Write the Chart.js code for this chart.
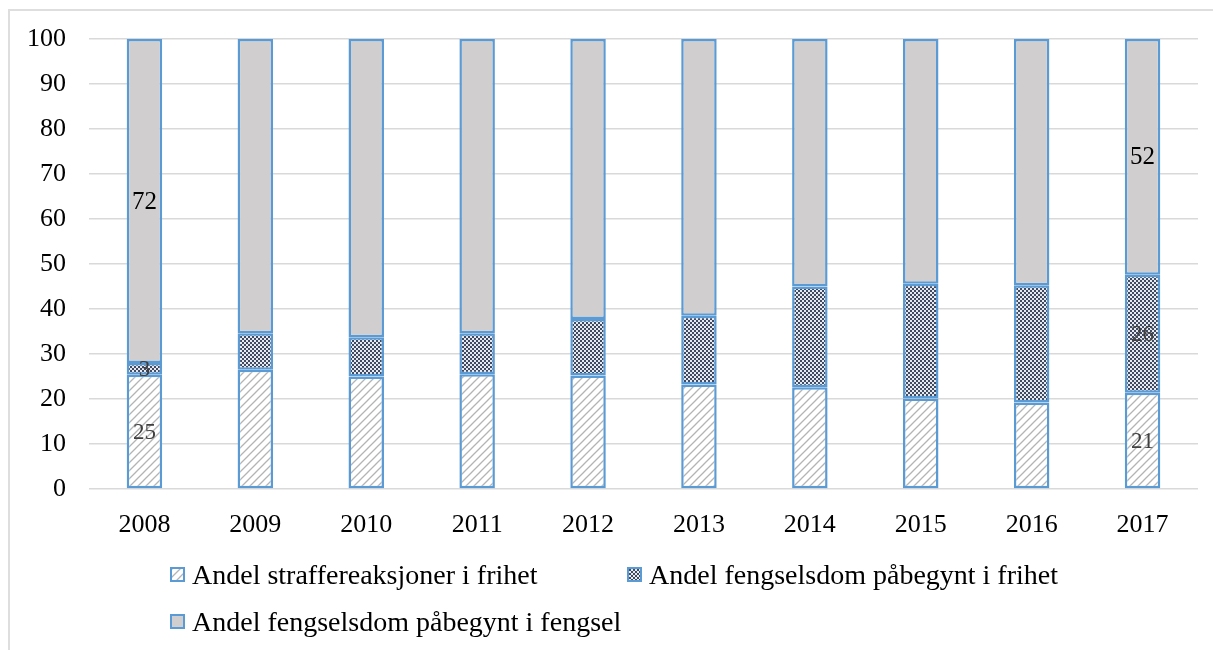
<!DOCTYPE html>
<html>
<head>
<meta charset="utf-8">
<script src="https://cdn.jsdelivr.net/npm/chart.js@4.4.1/dist/chart.umd.min.js"></script>
<style>
  html, body { margin: 0; padding: 0; background: #fff; overflow: hidden; }
  #frame { position: absolute; left: 8px; top: 9px; width: 1300px; height: 700px; border: 2px solid #dedede; }
  #wrap { position: absolute; left: 0; top: 0; width: 1213px; height: 650px; }
  #legend {
    position: absolute; left: 170px; top: 559px;
    display: grid; grid-template-columns: 457px auto; row-gap: 16px;
    font-family: "Liberation Serif", "Times New Roman", serif; font-size: 28px; color: #000;
  }
  .item { display: flex; align-items: center; line-height: 31px; white-space: nowrap; }
  .box { width: 11px; height: 11px; border: 2px solid #5b9bd5; margin-right: 7px; }
</style>
</head>
<body>
<div id="frame"></div>
<div id="wrap"><canvas id="chart"></canvas></div>
<div id="legend"></div>
<script>
//Data lest av figuren
const aar = ["2008", "2009", "2010", "2011", "2012", "2013", "2014", "2015", "2016", "2017"];
const straffFrihet = [25.4, 26.5, 25.0, 25.5, 25.2, 23.2, 22.6, 20.1, 19.2, 21.4];
const fengselFrihet = [2.6, 8.1, 8.7, 9.1, 12.6, 15.3, 22.4, 25.5, 26.1, 26.2];
const fengselFengsel = [72.0, 65.4, 66.3, 65.4, 62.2, 61.5, 55.0, 54.4, 54.7, 52.4];
const serier = [
  "Andel straffereaksjoner i frihet",
  "Andel fengselsdom påbegynt i frihet",
  "Andel fengselsdom påbegynt i fengsel",
];
const yTicks = [0, 10, 20, 30, 40, 50, 60, 70, 80, 90, 100];
const merketAar = ["2008", "2017"]; //bare disse har tall i søylene

//Mønstre for søylene
function skravur() {
  const c = document.createElement("canvas");
  c.width = 8; c.height = 8;
  const g = c.getContext("2d");
  g.fillStyle = "#fff";
  g.fillRect(0, 0, 8, 8);
  g.strokeStyle = "#b4b4b4";
  g.lineWidth = 1.3;
  g.beginPath();
  g.moveTo(0, 8); g.lineTo(8, 0);
  g.moveTo(-2, 2); g.lineTo(2, -2);
  g.moveTo(6, 10); g.lineTo(10, 6);
  g.stroke();
  return c;
}
function rutet() {
  const c = document.createElement("canvas");
  c.width = 4; c.height = 4;
  const g = c.getContext("2d");
  g.fillStyle = "#e8eaef";
  g.fillRect(0, 0, 4, 4);
  g.fillStyle = "#3e4b63";
  g.fillRect(0, 0, 2, 2);
  g.fillRect(2, 2, 2, 2);
  return c;
}
const ctx = document.getElementById("chart").getContext("2d");
const monster1 = skravur();
const monster2 = rutet();
const fyll = [
  ctx.createPattern(monster1, "repeat"),
  ctx.createPattern(monster2, "repeat"),
  "#d0cece",
];
const swatch = [monster1.toDataURL(), monster2.toDataURL(), null];
const tallFarge = ["#404040", "#404040", "#000"];

//Tall midt i søylene
const tallPlugin = {
  id: "tall",
  afterDatasetsDraw(chart) {
    const c = chart.ctx;
    c.save();
    c.textAlign = "center";
    c.textBaseline = "middle";
    chart.data.datasets.forEach((ds, di) => {
      const meta = chart.getDatasetMeta(di);
      c.font = (di == 2 ? "25px" : "23px") + " 'Liberation Serif', serif";
      c.fillStyle = tallFarge[di];
      merketAar.forEach(a => {
        const i = aar.indexOf(a);
        const el = meta.data[i];
        c.fillText(Math.round(ds.data[i]), el.x, (el.y + el.base) / 2 + 1);
      });
    });
    c.restore();
  }
};

const font = { family: "'Liberation Serif', 'Times New Roman', serif", size: 26 };
const felles = { borderColor: "#5b9bd5", borderWidth: 2.5, borderSkipped: false, barPercentage: 0.32, categoryPercentage: 1 };

new Chart(ctx, {
  type: "bar",
  data: {
    labels: aar,
    datasets: [
      { label: serier[0], data: straffFrihet, backgroundColor: fyll[0], ...felles },
      { label: serier[1], data: fengselFrihet, backgroundColor: fyll[1], ...felles },
      { label: serier[2], data: fengselFengsel, backgroundColor: fyll[2], ...felles },
    ],
  },
  options: {
    responsive: true,
    maintainAspectRatio: false,
    animation: false,
    layout: { padding: { left: 0, top: 39, right: 15, bottom: 0 } },
    plugins: { legend: { display: false }, tooltip: { enabled: false } },
    scales: {
      x: {
        stacked: true,
        grid: { display: false },
        border: { display: false },
        ticks: { font: font, color: "#000", padding: 13 },
        afterFit: s => { s.height = 161; },
      },
      y: {
        stacked: true,
        min: 0,
        max: 100,
        afterBuildTicks: s => { s.ticks = yTicks.map(v => ({ value: v })); },
        grid: { color: "#d9d9d9", lineWidth: 1.5, drawTicks: false },
        border: { display: false },
        ticks: { font: font, color: "#000", padding: 23 },
        afterFit: s => { s.width = 89; },
      },
    },
  },
  plugins: [tallPlugin],
});

//Forklaring under figuren
const legend = document.getElementById("legend");
serier.forEach((navn, i) => {
  const item = document.createElement("div");
  item.className = "item";
  const box = document.createElement("span");
  box.className = "box";
  if (swatch[i]) box.style.backgroundImage = `url(${swatch[i]})`;
  else box.style.background = fyll[i];
  item.appendChild(box);
  item.appendChild(document.createTextNode(navn));
  legend.appendChild(item);
});
</script>
</body>
</html>
